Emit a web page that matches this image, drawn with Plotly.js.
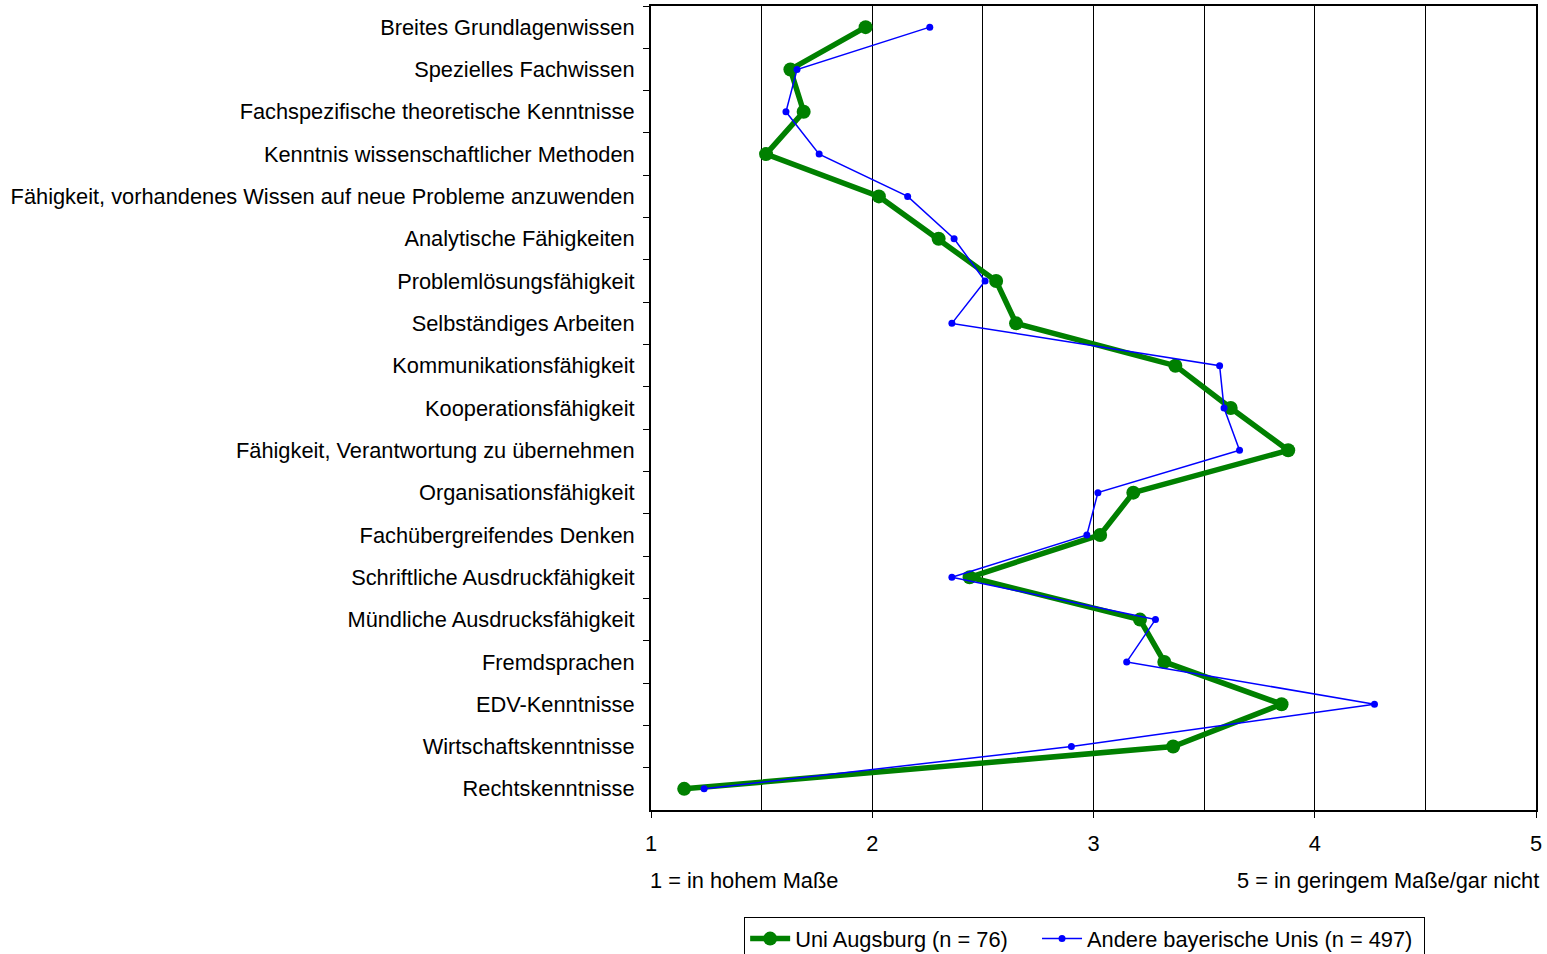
<!DOCTYPE html>
<html>
<head>
<meta charset="utf-8">
<script src="https://cdn.plot.ly/plotly-3.0.1.min.js"></script>
<style>html,body{margin:0;padding:0;background:#fff;}#chart{width:1547px;height:954px;}</style>
</head>
<body>
<div id="chart"></div>
<script>
const categories = [
  "Breites Grundlagenwissen",
  "Spezielles Fachwissen",
  "Fachspezifische theoretische Kenntnisse",
  "Kenntnis wissenschaftlicher Methoden",
  "Fähigkeit, vorhandenes Wissen auf neue Probleme anzuwenden",
  "Analytische Fähigkeiten",
  "Problemlösungsfähigkeit",
  "Selbständiges Arbeiten",
  "Kommunikationsfähigkeit",
  "Kooperationsfähigkeit",
  "Fähigkeit, Verantwortung zu übernehmen",
  "Organisationsfähigkeit",
  "Fachübergreifendes Denken",
  "Schriftliche Ausdruckfähigkeit",
  "Mündliche Ausdrucksfähigkeit",
  "Fremdsprachen",
  "EDV-Kenntnisse",
  "Wirtschaftskenntnisse",
  "Rechtskenntnisse"
];
const augsburg = [1.97, 1.63, 1.69, 1.52, 2.03, 2.30, 2.56, 2.65, 3.37, 3.62, 3.88, 3.18, 3.03, 2.44, 3.21, 3.32, 3.85, 3.36, 1.15];
const andere   = [2.26, 1.66, 1.61, 1.76, 2.16, 2.37, 2.51, 2.36, 3.57, 3.59, 3.66, 3.02, 2.97, 2.36, 3.28, 3.15, 4.27, 2.90, 1.24];
const seriesNames = ["Uni Augsburg (n = 76)", "Andere bayerische Unis (n = 497)"];
const xTickVals = [1, 2, 3, 4, 5];
const leftNote = "1 = in hohem Maße";
const rightNote = "5 = in geringem Maße/gar nicht";

const font = {family: "Liberation Sans, Arial, sans-serif", size: 21.8, color: "#000"};
const pad = "\u00a0\u00a0\u00a0\u00a0";

const traces = [
  {
    type: "scatter", mode: "lines+markers", name: seriesNames[0] + pad,
    x: augsburg, y: categories,
    line: {color: "rgb(0,128,0)", width: 5.5},
    marker: {color: "rgb(0,128,0)", size: 14}
  },
  {
    type: "scatter", mode: "lines+markers", name: seriesNames[1] + "\u00a0",
    x: andere, y: categories,
    line: {color: "rgb(0,0,255)", width: 1.5},
    marker: {color: "rgb(0,0,255)", size: 7}
  }
];

const layout = {
  width: 1547, height: 954,
  paper_bgcolor: "#fff", plot_bgcolor: "#fff",
  margin: {l: 651, r: 11, t: 6, b: 144, pad: 0, autoexpand: false},
  font: font,
  showlegend: true,
  xaxis: {
    range: [1, 5], tickvals: xTickVals, ticktext: xTickVals.map(String),
    ticks: "outside", ticklen: 6, tickcolor: "#000", tickwidth: 1,
    showgrid: true, gridcolor: "#000", gridwidth: 1,
    minor: {dtick: 0.5, tick0: 1, showgrid: true, gridcolor: "#000", gridwidth: 1, ticks: ""},
    showline: true, linecolor: "#000", linewidth: 2, mirror: true,
    zeroline: false, ticklabelstandoff: 7,
    tickfont: font, fixedrange: true, automargin: false
  },
  yaxis: {
    type: "category", categoryorder: "array", categoryarray: categories,
    range: [categories.length - 0.5, -0.5], autorange: false,
    ticks: "outside", ticklen: 6, tickcolor: "#000", tickson: "boundaries",
    showgrid: false, showline: true, linecolor: "#000", linewidth: 2, mirror: true,
    zeroline: false, ticklabelstandoff: 10,
    tickfont: font, fixedrange: true, automargin: false
  },
  legend: {
    orientation: "h", x: 0.49, xanchor: "center", y: -0.133, yanchor: "top",
    bordercolor: "#000", borderwidth: 1, bgcolor: "#fff",
    font: font, itemwidth: 40, tracegroupgap: 0
  },
  annotations: [
    {text: leftNote, xref: "paper", yref: "paper", x: 0, xanchor: "left", y: -0.088, yanchor: "middle", xshift: -3, showarrow: false, font: font},
    {text: rightNote, xref: "paper", yref: "paper", x: 1, xanchor: "right", y: -0.088, yanchor: "middle", xshift: 5, showarrow: false, font: font}
  ]
};

Plotly.newPlot("chart", traces, layout, {displayModeBar: false, staticPlot: true});
</script>
</body>
</html>
